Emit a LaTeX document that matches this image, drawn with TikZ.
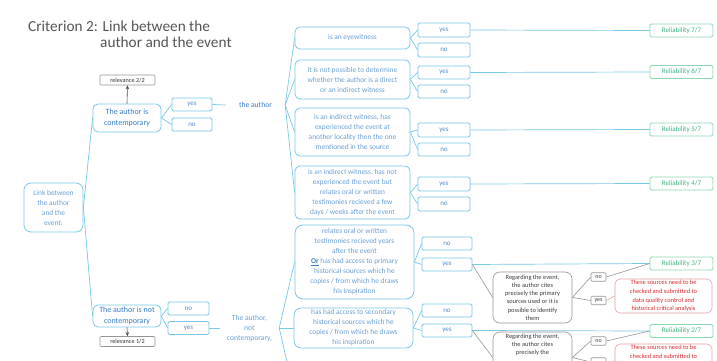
\documentclass[tikz,border=0pt]{standalone}
\usepackage{fontspec}
\setmainfont{Carlito}
\usetikzlibrary{arrows.meta}
\definecolor{lblue}{RGB}{120,200,232}
\definecolor{btext}{RGB}{105,160,212}
\definecolor{dtext}{RGB}{55,125,195}
\definecolor{yntext}{RGB}{80,140,200}
\definecolor{gborder}{RGB}{140,215,175}
\definecolor{gtext}{RGB}{60,180,125}
\definecolor{rborder}{RGB}{232,160,160}
\definecolor{rtext}{RGB}{215,45,50}
\definecolor{grayb}{RGB}{150,150,150}
\definecolor{grayt}{RGB}{60,60,60}
\definecolor{titlec}{RGB}{85,85,85}
\tikzset{
  bbox/.style={draw=lblue, line width=0.8pt, rounded corners=5pt, align=center, text=btext,
    font=\fontsize{7.4}{10}\selectfont, inner sep=1pt},
  yn/.style={draw=lblue, line width=0.8pt, rounded corners=1.5pt, align=center, text=yntext,
    font=\fontsize{7}{8}\selectfont, inner sep=0pt, minimum height=13pt},
  relb/.style={draw=gborder, line width=0.8pt, rounded corners=1.5pt, text=gtext,
    font=\fontsize{7}{8}\selectfont, inner sep=0pt, minimum width=63pt, minimum height=13pt},
  gbox/.style={draw=grayb, line width=0.6pt, rounded corners=7pt, align=center, text=grayt,
    font=\fontsize{6.4}{8.2}\selectfont, inner sep=0pt, minimum width=79pt, minimum height=51pt},
  gyn/.style={draw=grayb, line width=0.6pt, rounded corners=1pt, text=grayt,
    font=\fontsize{6}{7}\selectfont, inner sep=0pt, minimum width=15pt, minimum height=8.5pt},
  redb/.style={draw=rborder, line width=0.6pt, rounded corners=5pt, align=center, text=rtext,
    font=\fontsize{6.4}{8.8}\selectfont, inner sep=0pt, minimum width=97pt, minimum height=34pt},
  relev/.style={draw=grayb, line width=0.6pt, rounded corners=1pt, text=black!80,
    font=\fontsize{6.2}{7}\selectfont, inner sep=0pt, minimum width=55pt, minimum height=10pt},
  conn/.style={draw=lblue, line width=0.7pt},
  gconn/.style={draw=grayb, line width=0.6pt},
  rconn/.style={draw=rborder, line width=0.6pt},
  arr/.style={draw=black!70, line width=0.6pt, -{Stealth[length=4pt,width=3.5pt]}},
}
\begin{document}
\begin{tikzpicture}[x=1pt,y=-1pt]
\useasboundingbox (0,0) rectangle (717,361);
\clip (0,0) rectangle (717,361);
\fill[white] (0,0) rectangle (717,361);

% title
\node[anchor=base west, inner sep=0, text=titlec, font=\fontsize{15.3}{18}\selectfont] (title1) at (28,32) {Criterion 2: Link between the};
\node[anchor=base west, inner sep=0, text=titlec, font=\fontsize{15.3}{18}\selectfont] (title2) at (100,48) {author and the event};

% left part
\node[bbox, text=btext, minimum width=59pt, minimum height=49pt, rounded corners=7pt] (link) at (53.5,207.5) {Link between\\ the author\\ and the\\ event:};
\node[bbox, text=dtext, font=\fontsize{8}{10.5}\selectfont, minimum width=68pt, minimum height=28pt] (contemp) at (127,118) {The author is\\ contemporary};
\node[bbox, text=dtext, font=\fontsize{8}{10.5}\selectfont, minimum width=68pt, minimum height=22pt] (notcont) at (127,316) {The author is not\\ contemporary};
\node[relev] (rel22) at (127.5,80) {relevance 2/2};
\node[relev] (rel12) at (127.5,341.5) {relevance 1/2};
\node[yn, minimum width=40pt] (cyes) at (192,104.5) {yes};
\node[yn, minimum width=40pt] (cno) at (192,124.5) {no};
\node[yn, minimum width=41pt] (nno) at (188.5,308.5) {no};
\node[yn, minimum width=41pt] (nyes) at (188.5,328) {yes};
\node[text=dtext, font=\fontsize{7.6}{10}\selectfont, inner sep=0, minimum width=59pt] (auth) at (255.5,105) {the author};
\node[text=btext, font=\fontsize{7.6}{10}\selectfont, align=center, inner sep=0, minimum width=59pt] (nauth) at (249.5,328) {The author,\\ not\\ contemporary,};

\draw[conn] (link.east) -- (contemp.west);
\draw[conn] (link.east) -- (notcont.west);
\draw[arr] (contemp.north) -- (rel22.south);
\draw[arr] (notcont.south) -- (rel12.north);
\draw[conn] (contemp.east) -- (cyes.west);
\draw[conn] (contemp.east) -- (cno.west);
\draw[conn] (notcont.east) -- (nno.west);
\draw[conn] (notcont.east) -- (nyes.west);
\draw[conn] (cyes.east) -- (auth.west);
\draw[conn] (nyes.east) -- (nauth.west);

% middle column
\node[bbox, minimum width=115pt, minimum height=22pt] (b1) at (352.5,38) {is an eyewitness};
\node[bbox, minimum width=115pt, minimum height=39pt] (b2) at (352.5,79.5) {it is not possible to determine\\ whether the author is a direct\\ or an indirect witness};
\node[bbox, minimum width=115pt, minimum height=48pt] (b3) at (352.5,132) {is an indirect witness, has\\ experienced the event at\\ another locality then the one\\ mentioned in the source};
\node[bbox, minimum width=115pt, minimum height=53pt] (b4) at (352.5,192.5) {is an indirect witness, has not\\ experienced the event but\\ relates oral or written\\ testimonies recieved a few\\ days / weeks after the event};
\node[bbox, minimum width=119pt, minimum height=74pt, rounded corners=8pt] (b5) at (354.5,262) {relates oral or written\\ testimonies recieved years\\ after the event\\ {\color{dtext}\textbf{\underline{Or}}} has had access to primary\\ historical sources which he\\ copies / from which he draws\\ his inspiration};
\node[bbox, minimum width=119pt, minimum height=40pt, rounded corners=7pt] (b6) at (353.5,328) {has had access to secondary\\ historical sources which he\\ copies / from which he draws\\ his inspiration};
\coordinate (fanend) at (290,375);

\foreach \b in {b1,b2,b3,b4} \draw[conn] (auth.east) -- (\b.west);
\draw[conn] (nauth.east) -- (b5.west);
\draw[conn] (nauth.east) -- (b6.west);
\draw[conn] (nauth.east) -- (fanend);

% yes / no
\node[yn, minimum width=52pt, minimum height=14pt] (y1) at (444,30) {yes};
\node[yn, minimum width=52pt, minimum height=14pt] (n1) at (444,50) {no};
\node[yn, minimum width=52pt] (y2) at (444,72.5) {yes};
\node[yn, minimum width=52pt] (n2) at (444,91.5) {no};
\node[yn, minimum width=52pt, minimum height=14pt] (y3) at (444,130) {yes};
\node[yn, minimum width=52pt] (n3) at (444,149.5) {no};
\node[yn, minimum width=52pt, minimum height=14pt] (y4) at (444,184) {yes};
\node[yn, minimum width=52pt, minimum height=14pt] (n4) at (444,204) {no};
\node[yn, minimum width=50pt] (n5) at (447,243.5) {no};
\node[yn, minimum width=50pt] (y5) at (447,264.5) {yes};
\node[yn, minimum width=50pt] (n6) at (447,310.5) {no};
\node[yn, minimum width=50pt] (y6) at (447,330.5) {yes};

\foreach \i in {1,...,6} {
  \draw[conn] (b\i.east) -- (y\i.west);
  \draw[conn] (b\i.east) -- (n\i.west);
}

% reliability
\node[relb] (r7) at (681.5,30.5) {Reliability 7/7};
\node[relb] (r6) at (681.5,72) {Reliability 6/7};
\node[relb] (r5) at (681.5,129.5) {Reliability 5/7};
\node[relb] (r4) at (681.5,183.5) {Reliability 4/7};
\node[relb] (r3) at (681.5,263.5) {Reliability 3/7};
\node[relb] (r2) at (681.5,331) {Reliability 2/7};
\draw[conn] (y1.east) -- (r7.west);
\draw[conn] (y2.east) -- (r6.west);
\draw[conn] (y3.east) -- (r5.west);
\draw[conn] (y4.east) -- (r4.west);
\draw[conn] (y5.east) -- (r3.west);
\draw[conn] (y6.east) -- (r2.west);

% regarding boxes
\node[gbox] (g1) at (532.5,297.5) {Regarding the event,\\ the author cites\\ precisely the primary\\ sources used or it is\\ possible to identify\\ them};
\node[gbox, text depth=26pt] (g2) at (532.5,357.5) {Regarding the event,\\ the author cites\\ precisely the};
\node[gyn] (sn1) at (598.5,277) {no};
\node[gyn] (sy1) at (598.5,300.5) {yes};
\node[gyn] (sn2) at (598.5,341) {no};
\node[gyn] (sy2) at (598.5,362) {};
\node[redb] (red1) at (663.5,296) {These sources need to be\\ checked and submitted to\\ data quality control and\\ historical critical analysis};
\node[redb, text depth=19pt] (red2) at (663.5,361) {These sources need to be\\ checked and submitted to};

\draw[gconn] (y5.east) -- (g1.west);
\draw[gconn] (y6.east) -- (g2.west);
\draw[gconn] (g1.east) -- (sn1.west);
\draw[gconn] (g1.east) -- (sy1.west);
\draw[gconn] (g2.east) -- (sn2.west);
\draw[gconn] (g2.east) -- (sy2.west);
\draw[gconn] (sn1.east) -- (r3.west);
\draw[gconn] (sn2.east) -- (r2.west);
\draw[rconn] (sy1.east) -- (red1.west);
\draw[rconn] (sy2.east) -- (red2.west);
\end{tikzpicture}
\end{document}
